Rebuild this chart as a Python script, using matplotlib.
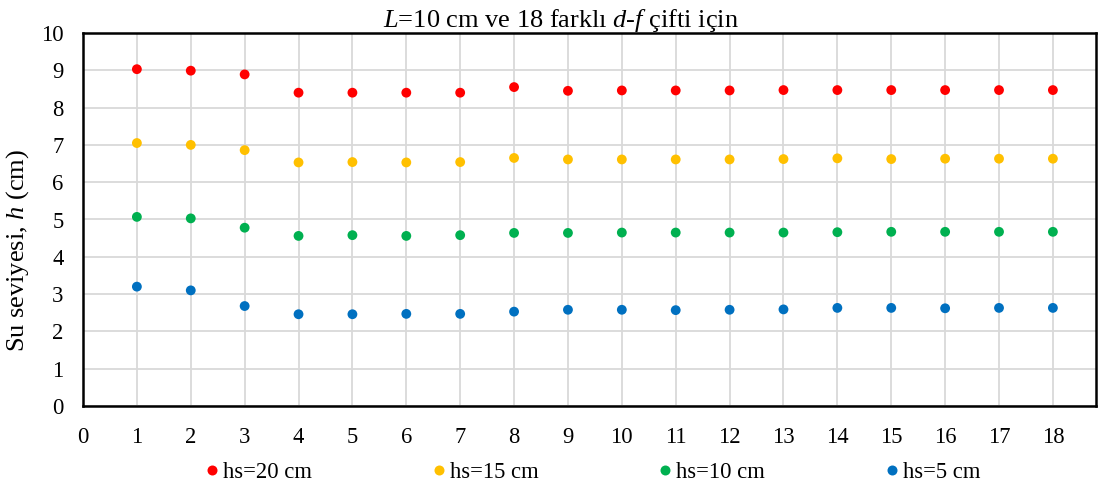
import matplotlib
matplotlib.use('Agg')
import matplotlib.pyplot as plt
from matplotlib.lines import Line2D

plt.rcParams['font.family'] = ['Liberation Serif', 'DejaVu Serif']
plt.rcParams['mathtext.fontset'] = 'custom'
plt.rcParams['mathtext.rm'] = 'Liberation Serif'
plt.rcParams['mathtext.it'] = 'Liberation Serif:italic'

cift_no = list(range(1, 19))

hs20 = [9.03, 8.99, 8.89, 8.40, 8.40, 8.40, 8.40, 8.55, 8.45,
        8.46, 8.46, 8.46, 8.47, 8.47, 8.47, 8.47, 8.47, 8.47]
hs15 = [7.05, 7.00, 6.86, 6.53, 6.54, 6.53, 6.54, 6.65, 6.61,
        6.61, 6.61, 6.61, 6.62, 6.64, 6.62, 6.63, 6.63, 6.63]
hs10 = [5.07, 5.03, 4.78, 4.56, 4.58, 4.56, 4.58, 4.64, 4.64,
        4.65, 4.65, 4.65, 4.65, 4.66, 4.67, 4.67, 4.67, 4.67]
hs5 = [3.20, 3.10, 2.68, 2.46, 2.46, 2.47, 2.47, 2.53, 2.58,
       2.58, 2.57, 2.58, 2.59, 2.63, 2.63, 2.62, 2.63, 2.63]

seriler = [
    (hs20, '#FF0000', 'hs=20 cm'),
    (hs15, '#FFC000', 'hs=15 cm'),
    (hs10, '#00B050', 'hs=10 cm'),
    (hs5, '#0070C0', 'hs=5 cm'),
]

fig = plt.figure(figsize=(11.02, 4.88), dpi=100)
ax = fig.add_axes([83 / 1102, 82 / 488, (1096 - 83) / 1102, (406 - 33) / 488])

for y, renk, etiket in seriler:
    ax.scatter(cift_no, y, s=50, color=renk, edgecolors='none', zorder=3, label=etiket)

ax.set_xlim(0, 18.8)
ax.set_ylim(0, 10)
ax.set_xticks(range(0, 19))
ax.set_yticks(range(0, 11))
ax.tick_params(length=0, labelsize=16.3)
ax.tick_params(axis='x', pad=15)
ax.tick_params(axis='y', pad=14)
ax.grid(True, color='#d9d9d9', linewidth=1.3, zorder=0)
ax.set_axisbelow(True)
for sp in ax.spines.values():
    sp.set_linewidth(1.8)
    sp.set_color('black')

# eksen başlığı Excel'deki gibi biraz aşağıda
ax.set_ylabel('Su seviyesi, $h$ (cm)', fontsize=19)
ax.yaxis.set_label_coords(-(83 - 31) / (1096 - 83), 0.5 - 31 / 373)
fig.text(561 / 1102, 1 - 27 / 488, '$L$=10 cm ve 18 farklı $d$-$f$ çifti için',
         ha='center', va='baseline', fontsize=19)

tutamac = [Line2D([], [], marker='o', linestyle='none', color=r, markersize=7.2, markeredgewidth=0)
           for _, r, _ in seriler]
fig.legend(tutamac, [e for _, _, e in seriler], loc='center left',
           bbox_to_anchor=(205 / 1102, 1 - 472 / 488), borderpad=0, borderaxespad=0,
           ncol=4, frameon=False, fontsize=16.3, handletextpad=0.19, columnspacing=5.3,
           handlelength=0.6)

fig.savefig('out.png', dpi=100)
